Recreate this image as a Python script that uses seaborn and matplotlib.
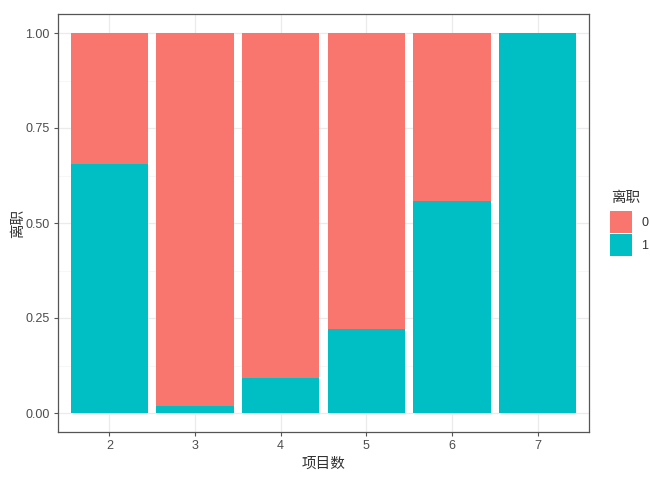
import matplotlib
matplotlib.use("Agg")
import matplotlib.pyplot as plt
import seaborn as sns
import pandas as pd
import numpy as np
from matplotlib.patches import Patch

# Data
projects = ["2", "3", "4", "5", "6", "7"]
share_left = [0.656, 0.018, 0.092, 0.222, 0.558, 1.0]   # 离职 = 1
share_stay = [1 - v for v in share_left]                 # 离职 = 0
legend_labels = ["0", "1"]
colors = {"0": "#F8766D", "1": "#00BFC4"}

sns.set_theme(style="white")
plt.rcParams['font.family'] = ['Noto Sans CJK SC', 'DejaVu Sans']
num_font = ['Liberation Sans', 'DejaVu Sans']

df = pd.DataFrame({"项目数": projects, "total": [1.0] * len(projects), "left": share_left})

fig = plt.figure(figsize=(6.5, 4.8), dpi=100)
ax = fig.add_axes([58 / 650, 1 - 432 / 480, 531 / 650, 418 / 480])

sns.barplot(data=df, x="项目数", y="total", color=colors["0"], width=0.9,
            saturation=1, ax=ax, order=projects, edgecolor="none", linewidth=0)
sns.barplot(data=df, x="项目数", y="left", color=colors["1"], width=0.9,
            saturation=1, ax=ax, order=projects, edgecolor="none", linewidth=0)

ax.set_xlim(-0.6, len(projects) - 1 + 0.6)
ax.set_ylim(-0.05, 1.05)
ax.set_yticks([0, 0.25, 0.5, 0.75, 1.0])
ax.set_yticklabels(["0.00", "0.25", "0.50", "0.75", "1.00"])
ax.set_yticks([0.125, 0.375, 0.625, 0.875], minor=True)

ax.grid(True, which="major", color="#EBEBEB", linewidth=0.9)
ax.grid(True, which="minor", axis="y", color="#F4F4F4", linewidth=0.5)
ax.set_axisbelow(True)
for s in ax.spines.values():
    s.set_color("#555555")
    s.set_linewidth(0.9)

ax.tick_params(axis="both", which="major", length=3, width=0.8, color="#555555",
               labelcolor="#4D4D4D", labelsize=9, pad=3, bottom=True, left=True)
ax.tick_params(axis="both", which="minor", length=0)
for lab in ax.get_xticklabels() + ax.get_yticklabels():
    lab.set_family(num_font)

ax.set_xlabel("项目数", fontsize=10.5, color="#333333", labelpad=3)
ax.set_ylabel("离职", fontsize=10.5, color="#333333", labelpad=0)

handles = [Patch(facecolor=colors[k], edgecolor="none") for k in legend_labels]
leg = fig.legend(handles, legend_labels, loc="upper left",
                 bbox_to_anchor=(610 / 650, 1 - 211 / 480), frameon=False,
                 prop={"family": num_font, "size": 9},
                 handlelength=1.75, handleheight=2.3,
                 handletextpad=0.75, labelspacing=0.12, borderaxespad=0,
                 borderpad=0)
for t in leg.get_texts():
    t.set_color("#333333")
fig.text(611 / 650, 1 - 198 / 480, "离职", fontsize=10.5, color="#333333",
         ha="left", va="center")

fig.savefig("out.png", dpi=100)
